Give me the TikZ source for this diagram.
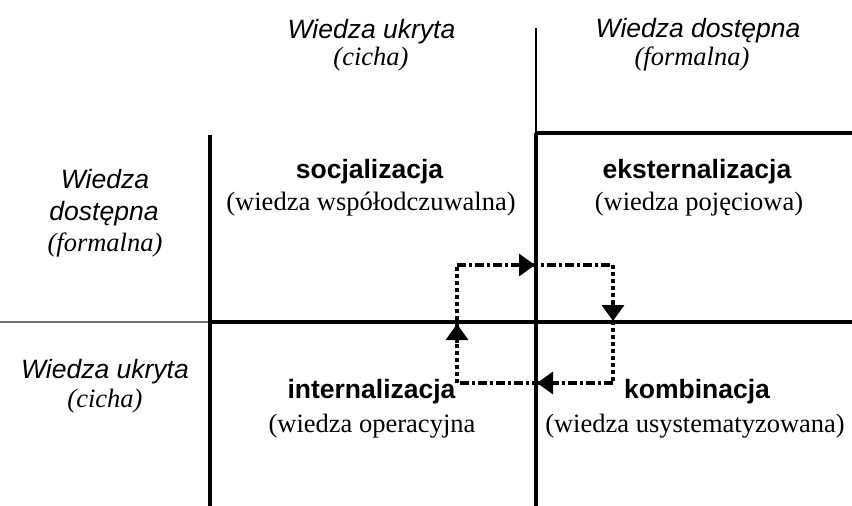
\documentclass[tikz,border=0pt]{standalone}
\usepackage{fontspec}
\setmainfont{Liberation Serif}
\newfontfamily\arialfont{Liberation Sans}
\usetikzlibrary{arrows.meta}
\begin{document}
\begin{tikzpicture}[x=1pt,y=-1pt,
  txt/.style={anchor=base,inner sep=0pt,font=\fontsize{26.5}{30}\selectfont},
  sansit/.style={txt,font=\fontsize{26.5}{30}\selectfont\arialfont\itshape},
  serifit/.style={txt,font=\fontsize{26.5}{30}\selectfont\itshape},
  boldsans/.style={txt,font=\fontsize{26.5}{30}\selectfont\arialfont\bfseries},
  plain/.style={txt,font=\fontsize{26.5}{30}\selectfont},
  axis/.style={line width=3.5pt},
  thinaxis/.style={line width=1.8pt},
  greyaxis/.style={line width=1.6pt,black!55},
  loopH/.style={line width=3.5pt,dash pattern=on 9pt off 3pt on 3pt off 3pt},
  loopV/.style={line width=3.5pt,dash pattern=on 4pt off 3pt},
  tipline/.style={line width=3.5pt,-{Triangle[length=16pt,width=22pt]}}]
\useasboundingbox (0,0) rectangle (852,506);
\fill[white] (0,0) rectangle (852,506);
% axis coordinates
\coordinate (vLtop) at (210,135);
\coordinate (vLbot) at (210,506);
\coordinate (vRtop) at (536,28);
\coordinate (vRmid) at (536,133);
\coordinate (vRbot) at (536,506);
\coordinate (hTend) at (852,133);
\coordinate (hMleft) at (0,322);
\coordinate (hMmid) at (210,322);
\coordinate (hMright) at (852,322);
% axes
\draw[greyaxis] (hMleft) -- (hMmid);
\draw[axis] (hMmid) -- (hMright);
\draw[axis] (vLtop) -- (vLbot);
\draw[thinaxis] (vRtop) -- (vRmid);
\draw[axis] (vRmid) -- (vRbot);
\draw[axis] (vRmid) -- (hTend);
% header labels
\node[sansit] (tl1) at (371.5,38) {Wiedza ukryta};
\node[serifit] (tl2) at (371,65) {(cicha)};
\node[sansit] (tr1) at (698,37) {Wiedza dostępna};
\node[serifit] (tr2) at (692,65) {(formalna)};
\node[sansit] (l1) at (105,188) {Wiedza};
\node[sansit] (l2) at (104,220) {dostępna};
\node[serifit] (l3) at (105,251) {(formalna)};
\node[sansit] (l4) at (105,378) {Wiedza ukryta};
\node[serifit] (l5) at (105,407) {(cicha)};
% quadrant labels
\node[boldsans] (soc) at (369.5,178) {socjalizacja};
\node[plain] (socd) at (371,210) {(wiedza współodczuwalna)};
\node[boldsans] (eks) at (697,178) {eksternalizacja};
\node[plain] (eksd) at (699,210) {(wiedza pojęciowa)};
\node[boldsans] (int) at (371.5,398) {internalizacja};
\node[plain] (intd) at (372,432) {(wiedza operacyjna};
\node[boldsans] (kom) at (697,398) {kombinacja};
\node[plain] (komd) at (695,432) {(wiedza usystematyzowana)};
% loop
\coordinate (A) at (457,265);
\coordinate (B) at (613,265);
\coordinate (C) at (613,383);
\coordinate (D) at (457,383);
\draw[loopH] (A) -- (B);
\draw[loopV] (B) -- (C);
\draw[loopH] (C) -- (D);
\draw[loopV] (D) -- (A);
% arrow tips
\coordinate (t1s) at (516,265); \coordinate (t1e) at (535,265);
\coordinate (t2s) at (613,302); \coordinate (t2e) at (613,321);
\coordinate (t3s) at (556,383); \coordinate (t3e) at (537,383);
\coordinate (t4s) at (457,343); \coordinate (t4e) at (457,324);
\draw[tipline] (t1s) -- (t1e);
\draw[tipline] (t2s) -- (t2e);
\draw[tipline] (t3s) -- (t3e);
\draw[tipline] (t4s) -- (t4e);
\end{tikzpicture}
\end{document}
